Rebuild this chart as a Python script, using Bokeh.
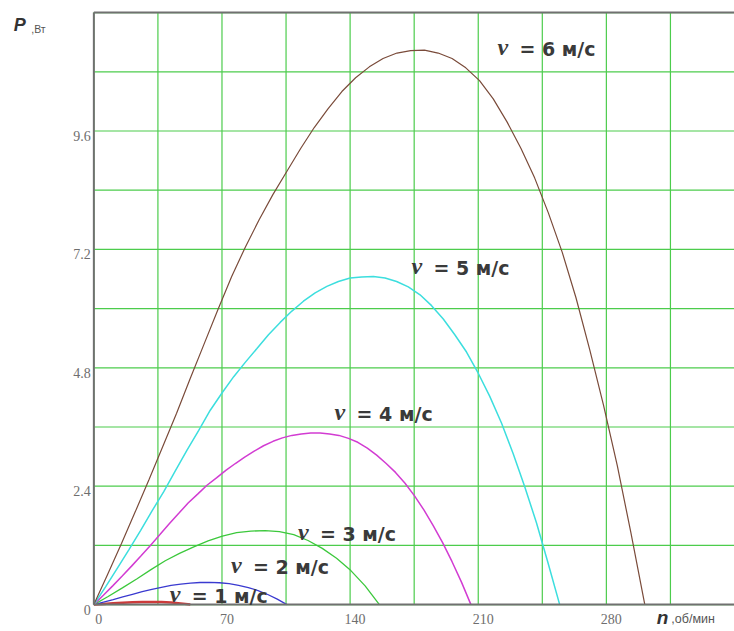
from bokeh.plotting import figure
from bokeh.models import ColumnDataSource, LabelSet, Label, Range1d
from bokeh.embed import file_html
from bokeh.resources import INLINE

# Power P (Вт) of the wind wheel versus rotational speed n (об/мин)
# for wind speeds v = 1 ... 6 м/с
n_v1 = [0, 5.3, 10.5, 15.8, 21.1, 26.4, 31.6, 36.9, 42.2, 47.4, 52.7]
p_v1 = [0, 0.012, 0.026, 0.038, 0.047, 0.053, 0.055, 0.052, 0.042, 0.025, 0]

n_v2 = [0, 5.3, 10.6, 15.8, 21.1, 26.4, 31.7, 36.9, 42.2, 47.5, 52.8, 58, 63.3,
        68.6, 73.9, 79.1, 84.4, 89.7, 95, 100.2, 105.5]
p_v2 = [0, 0.05, 0.10, 0.155, 0.21, 0.265, 0.31, 0.35, 0.39, 0.415, 0.435, 0.448,
        0.45, 0.443, 0.425, 0.39, 0.345, 0.285, 0.205, 0.11, 0]

n_v3 = [0, 7.8, 15.6, 23.4, 31.2, 39, 46.8, 54.6, 62.4, 70.2, 78, 85.8, 93.6,
        101.4, 109.2, 117, 124.8, 132.6, 140.4, 148.2, 156]
p_v3 = [0, 0.165, 0.34, 0.52, 0.71, 0.89, 1.04, 1.17, 1.29, 1.39, 1.46, 1.49, 1.50,
        1.48, 1.42, 1.30, 1.14, 0.94, 0.69, 0.38, 0]

n_v4 = [0, 5.2, 10.3, 15.5, 20.6, 25.8, 30.9, 36.1, 41.2, 46.4, 51.5, 56.7, 61.8,
        67.0, 72.1, 77.3, 82.4, 87.6, 92.7, 97.9, 103, 108.2, 113.3, 118.5, 123.6,
        128.8, 133.9, 139.1, 144.2, 149.4, 154.5, 159.7, 164.8, 170.0, 175.1, 180.3,
        185.4, 190.6, 195.7, 200.9, 206]
p_v4 = [0, 0.19, 0.38, 0.58, 0.78, 0.99, 1.20, 1.42, 1.64, 1.85, 2.06, 2.24, 2.42,
        2.57, 2.72, 2.86, 2.99, 3.11, 3.22, 3.31, 3.38, 3.43, 3.46, 3.48, 3.48,
        3.46, 3.43, 3.37, 3.29, 3.17, 3.03, 2.86, 2.68, 2.46, 2.21, 1.92,
        1.60, 1.25, 0.87, 0.45, 0]

n_v5 = [0, 6.4, 12.7, 19.1, 25.5, 31.8, 38.2, 44.5, 50.9, 57.3, 63.6, 70, 76.4,
        82.7, 89.1, 95.4, 101.8, 108.2, 114.5, 120.9, 127.3, 133.6, 140, 146.3,
        152.7, 159.1, 165.4, 171.8, 178.2, 184.5, 190.9, 197.2, 203.6, 210, 216.3,
        222.7, 229.1, 235.4, 241.8, 248.1, 254.5]
p_v5 = [0, 0.36, 0.73, 1.11, 1.50, 1.90, 2.29, 2.71, 3.13, 3.53, 3.94, 4.29, 4.62,
        4.91, 5.19, 5.47, 5.72, 5.95, 6.15, 6.32, 6.45, 6.55, 6.62, 6.64,
        6.65, 6.62, 6.55, 6.44, 6.28, 6.06, 5.79, 5.47, 5.12, 4.69, 4.22,
        3.68, 3.06, 2.39, 1.66, 0.85, 0]

n_v6 = [0, 7.5, 15.1, 22.6, 30.1, 37.6, 45.2, 52.7, 60.2, 67.7, 75.3, 82.8, 90.3,
        97.8, 105.4, 112.9, 120.4, 127.9, 135.5, 143, 150.5, 158, 165.6, 173.1,
        180.6, 188.1, 195.7, 203.2, 210.7, 218.2, 225.8, 233.3, 240.8, 248.3,
        255.9, 263.4, 270.9, 278.4, 286, 293.5, 301]
p_v6 = [0, 0.61, 1.24, 1.88, 2.53, 3.20, 3.88, 4.59, 5.28, 5.97, 6.65, 7.25, 7.80,
        8.31, 8.78, 9.24, 9.67, 10.05, 10.40, 10.68, 10.90, 11.07, 11.18, 11.23,
        11.24, 11.18, 11.07, 10.88, 10.62, 10.25, 9.78, 9.25, 8.65, 7.94,
        7.14, 6.22, 5.17, 4.05, 2.81, 1.44, 0]

wind_speeds = ["1", "2", "3", "4", "5", "6"]
curve_colors = ["#cc3b3b", "#3a3ad0", "#3cc83c", "#d23cd2", "#3cdede", "#7a4b3a"]
curve_widths = [2.5, 1.3, 1.3, 1.5, 1.5, 1.2]

# anchor (left edge of the "v", vertical centre) of each curve caption
caption_n = [41.4, 74.9, 111.5, 131.5, 173.5, 220.5]
caption_p = [0.18, 0.76, 1.43, 3.87, 6.83, 11.27]

x_tick_values = [0, 70, 140, 210, 280]
x_tick_labels = ["0", "70", "140", "210", "280"]
y_tick_values = [0, 2.4, 4.8, 7.2, 9.6]
y_tick_labels = ["0", "2.4", "4.8", "7.2", "9.6"]
x_grid_values = [0, 35, 70, 105, 140, 175, 210, 245, 280, 315]
y_grid_values = [0, 1.2, 2.4, 3.6, 4.8, 6.0, 7.2, 8.4, 9.6, 10.8, 12.0]
N_MAX = 350
P_MAX = 12.0

GRID = "#4ccc4c"
FRAME = "#707070"
TICK_TXT = "#6e6e6e"
CAPTION_TXT = "#3a3a3a"

# the frame fills the whole canvas; the area left of n = 0 and below P = 0
# holds the tick labels and the axis titles
p = figure(width=734, height=631,
           x_range=Range1d(-51, 350), y_range=Range1d(-0.545, 12.245),
           x_axis_type=None, y_axis_type=None,
           output_backend="svg", toolbar_location=None,
           min_border=0)
p.background_fill_color = "white"
p.border_fill_color = "white"
p.outline_line_color = None
p.grid.visible = False

# grid every 35 об/мин and every 1.2 Вт, limited to the plotting box
p.segment(x0=x_grid_values, y0=[0] * len(x_grid_values),
          x1=x_grid_values, y1=[P_MAX] * len(x_grid_values),
          line_color=GRID, line_width=1.2)
p.segment(x0=[0] * len(y_grid_values), y0=y_grid_values,
          x1=[N_MAX] * len(y_grid_values), y1=y_grid_values,
          line_color=GRID, line_width=1.2)

series = [(n_v1, p_v1), (n_v2, p_v2), (n_v3, p_v3),
          (n_v4, p_v4), (n_v5, p_v5), (n_v6, p_v6)]
for (nx, py), c, w in zip(series, curve_colors, curve_widths):
    p.line(nx, py, line_color=c, line_width=w)

# axis lines and the upper border of the box
p.segment(x0=[0, 0, 0], y0=[0, 0, P_MAX], x1=[N_MAX, 0, N_MAX], y1=[0, P_MAX, P_MAX],
          line_color=FRAME, line_width=2)

# curve captions: italic "v" followed by "= N м/с"
for v, xn, yp in zip(wind_speeds, caption_n, caption_p):
    p.add_layout(Label(x=xn, y=yp, text="v", text_font="Liberation Serif",
                       text_font_style="bold italic", text_font_size="24px",
                       text_color=CAPTION_TXT, text_align="left",
                       text_baseline="middle", y_offset=2))
    p.add_layout(Label(x=xn, y=yp, text="= " + v + " м/с", text_font="DejaVu Sans",
                       text_font_style="bold", text_font_size="19px",
                       text_color=CAPTION_TXT, text_align="left",
                       text_baseline="middle", x_offset=22))

# tick labels
xsrc = ColumnDataSource(dict(x=x_tick_values, y=[0] * len(x_tick_values), t=x_tick_labels))
p.add_layout(LabelSet(x="x", y="y", text="t", source=xsrc, x_offset=5, y_offset=-14,
                      text_align="center", text_baseline="middle",
                      text_font="Liberation Serif", text_font_size="14px",
                      text_color=TICK_TXT))
ysrc = ColumnDataSource(dict(x=[0] * len(y_tick_values), y=y_tick_values, t=y_tick_labels))
p.add_layout(LabelSet(x="x", y="y", text="t", source=ysrc, x_offset=-3, y_offset=-5,
                      text_align="right", text_baseline="middle",
                      text_font="Liberation Serif", text_font_size="14px",
                      text_color=TICK_TXT))

# axis titles
p.add_layout(Label(x=-43.8, y=11.74, text="P", text_font="Liberation Sans",
                   text_font_style="bold italic", text_font_size="18px",
                   text_color="#333333", text_baseline="middle"))
p.add_layout(Label(x=-34.2, y=11.66, text=",Вт", text_font="Liberation Sans",
                   text_font_size="10.5px", text_color="#555555", text_baseline="middle"))
p.add_layout(Label(x=307.5, y=-0.26, text="n", text_font="Liberation Sans",
                   text_font_style="bold italic", text_font_size="19px",
                   text_color="#333333", text_baseline="middle"))
p.add_layout(Label(x=315.5, y=-0.29, text=",об/мин", text_font="Liberation Sans",
                   text_font_size="12.5px", text_color="#555555", text_baseline="middle"))

open("out.html", "w").write(file_html(p, INLINE))
